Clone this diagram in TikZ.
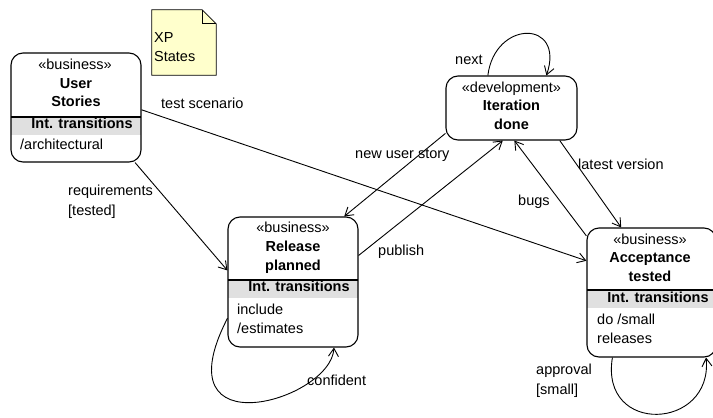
\documentclass[tikz,border=0pt]{standalone}
\usepackage{fontspec}
\setmainfont{Liberation Sans}
\usetikzlibrary{arrows.meta}
\definecolor{notefill}{RGB}{255,255,204}
\definecolor{bandfill}{RGB}{224,224,224}

\tikzset{
  statebox/.style={draw, line width=1.1pt, rounded corners=12pt, inner sep=0pt, minimum width=130pt},
  notebox/.style={inner sep=0pt, minimum width=64pt, minimum height=65pt},
  txt/.style={inner sep=0pt, font=\fontsize{14.5}{18}\selectfont},
  headtxt/.style={txt, anchor=mid},
  nametxt/.style={txt, anchor=mid, font=\fontsize{14.5}{18}\selectfont\bfseries},
  bodytxt/.style={txt, anchor=mid west},
  trans/.style={-{Straight Barb[length=8pt,width=10pt]}, line width=0.9pt},
}

\begin{document}
\begin{tikzpicture}[x=1pt, y=-1pt]
  \useasboundingbox (0,0) rectangle (713,418);
  \clip (0,0) rectangle (713,418);

  % note
  \node[notebox] (note) at (184,42.5) {};
  \draw[line width=0.8pt, fill=notefill] (note.north west) -- ([xshift=-14pt]note.north east)
    -- ([yshift=-14pt]note.north east) -- (note.south east) -- (note.south west) -- cycle;
  \draw[line width=0.8pt] ([xshift=-14pt]note.north east) |- ([yshift=-14pt]note.north east);
  \node[bodytxt] (xp) at (154,40) {XP};
  \node[bodytxt] (xpstates) at (154,59) {States};

  % compartment bands
  \fill[bandfill] (11,117) rectangle (141,135);
  \fill[bandfill] (228,280) rectangle (358,298);
  \fill[bandfill] (587,290) rectangle (716,308);
  \draw[line width=1.1pt] (11,117) -- (141,117);
  \draw[line width=1.1pt] (228,280) -- (358,280);
  \draw[line width=1.1pt] (587,290) -- (716,290);

  % states
  \node[statebox, minimum height=109pt] (stories) at (76,107.5) {};
  \node[statebox, minimum height=130pt] (release) at (293,282) {};
  \node[statebox, minimum width=131pt, minimum height=64pt] (iter) at (511.5,108) {};
  \node[statebox, minimum width=129pt, minimum height=129pt] (accept) at (651.5,292.5) {};

  % User Stories
  \node[headtxt] (stories-st) at (75,67) {«business»};
  \node[nametxt] (stories-n1) at (76,86) {User};
  \node[nametxt] (stories-n2) at (76,104) {Stories};
  \node[nametxt] (stories-it) at (82,126) {Int. transitions};
  \node[bodytxt] (stories-a1) at (20,147) {/architectural};

  % Release planned
  \node[headtxt] (release-st) at (293,230) {«business»};
  \node[nametxt] (release-n1) at (293,249) {Release};
  \node[nametxt] (release-n2) at (293,268) {planned};
  \node[nametxt] (release-it) at (299,289) {Int. transitions};
  \node[bodytxt] (release-a1) at (237,312) {include};
  \node[bodytxt] (release-a2) at (237,331) {/estimates};

  % Iteration done
  \node[headtxt] (iter-st) at (511.5,90) {«development»};
  \node[nametxt] (iter-n1) at (511.5,108) {Iteration};
  \node[nametxt] (iter-n2) at (511.5,127) {done};

  % Acceptance tested
  \node[headtxt] (accept-st) at (650,242) {«business»};
  \node[nametxt] (accept-n1) at (650,260) {Acceptance};
  \node[nametxt] (accept-n2) at (650,279) {tested};
  \node[nametxt] (accept-it) at (658,300) {Int. transitions};
  \node[bodytxt] (accept-a1) at (597,322) {do /small};
  \node[bodytxt] (accept-a2) at (597,341) {releases};

  % transitions
  \draw[trans] (stories.-43) -- (release.170);
  \draw[trans] (stories.-2) -- (accept.154);
  \draw[trans] (iter.201) -- (release.52);
  \draw[trans] (release.22) -- (iter.255);
  \draw[trans] (accept.139) -- (iter.-85);
  \draw[trans] (iter.-34.5) -- (accept.115);
  \draw[trans] (iter.126) .. controls +(7,-56) and +(19,-56) .. (iter.43);
  \draw[trans] (release.209) .. controls +(-68,132) and +(-3,53) .. (release.-58);
  \draw[trans] (accept.239) .. controls +(-13,78) and +(7,73) .. (accept.-50);

  % transition labels
  \node[bodytxt] (lbl-req1) at (68,193) {requirements};
  \node[bodytxt] (lbl-req2) at (68,213) {[tested]};
  \node[bodytxt] (lbl-test) at (161,106) {test scenario};
  \node[bodytxt] (lbl-new) at (355,156) {new user story};
  \node[bodytxt] (lbl-pub) at (378,253) {publish};
  \node[bodytxt] (lbl-bugs) at (518,203) {bugs};
  \node[bodytxt] (lbl-latest) at (578,167) {latest version};
  \node[bodytxt] (lbl-next) at (455,62) {next};
  \node[bodytxt] (lbl-conf) at (307,383) {confident};
  \node[bodytxt] (lbl-appr1) at (536,372) {approval};
  \node[bodytxt] (lbl-appr2) at (536,392) {[small]};
\end{tikzpicture}
\end{document}
